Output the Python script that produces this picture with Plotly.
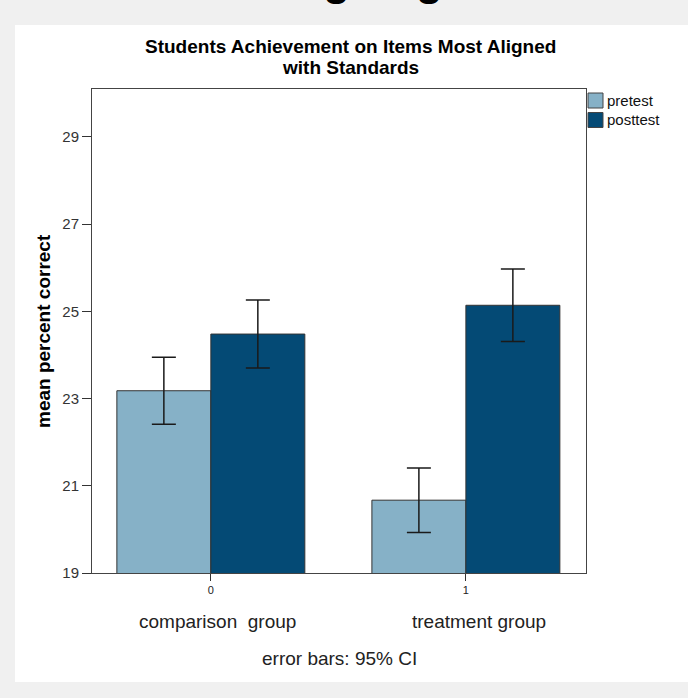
import plotly.graph_objects as go

# Group codes and labels on the x axis
group_codes = [0, 1]
group_labels = ["comparison  group", "treatment group"]
tick_labels = ["0", "1"]

# Mean percent correct and 95% CI half-widths
pretest_means = [23.18, 20.67]
pretest_ci = [0.77, 0.74]
posttest_means = [24.48, 25.14]
posttest_ci = [0.78, 0.83]

y_ticks = [19, 21, 23, 25, 27, 29]

PRE_COLOR = "#86b1c7"
POST_COLOR = "#044a75"
FONT = "Liberation Sans, Arial, sans-serif"

W, H = 688, 698
L, R, T, B = 92, 586, 89, 573  # plot area in pixels


def px_x(p):
    return (p - L) / (R - L)


def px_y(p):
    return (B - p) / (B - T)


fig = go.Figure()

fig.add_trace(go.Bar(
    x=group_codes, y=pretest_means, name="pretest",
    marker=dict(color=PRE_COLOR, line=dict(color="#333333", width=1)),
    error_y=dict(type="data", array=pretest_ci, color="#1a1a1a", thickness=1.5, width=12),
    showlegend=False,
))
fig.add_trace(go.Bar(
    x=group_codes, y=posttest_means, name="posttest",
    marker=dict(color=POST_COLOR, line=dict(color="#333333", width=1)),
    error_y=dict(type="data", array=posttest_ci, color="#1a1a1a", thickness=1.5, width=12),
    showlegend=False,
))

shapes = [
    # white chart panel
    dict(type="rect", xref="paper", yref="paper", layer="below",
         x0=px_x(15), x1=px_x(700), y0=px_y(682), y1=px_y(25),
         fillcolor="white", line=dict(width=0)),
]
annotations = []

# legend swatches and labels
for i, (name, col) in enumerate([("pretest", PRE_COLOR), ("posttest", POST_COLOR)]):
    top = 93 + i * 19.5
    shapes.append(dict(type="rect", xref="paper", yref="paper",
                       x0=px_x(588), x1=px_x(603), y0=px_y(top + 15), y1=px_y(top),
                       fillcolor=col, line=dict(color="#444444", width=1)))
    annotations.append(dict(xref="paper", yref="paper", x=px_x(605), y=px_y(top + 7.5),
                            text=name, showarrow=False, xanchor="left", yanchor="middle",
                            font=dict(family=FONT, size=15, color="#111111")))

# group names under the axis
for cx, lab in zip([217, 479], group_labels):
    annotations.append(dict(xref="paper", yref="paper", x=px_x(cx), y=px_y(621), text=lab,
                            showarrow=False, xanchor="center", yanchor="middle",
                            font=dict(family=FONT, size=19, color="#222222")))

# chart title, one annotation per line
for text, yc in [("Students Achievement on Items Most Aligned", 47),
                 ("with Standards", 68)]:
    annotations.append(dict(xref="paper", yref="paper", x=px_x(350), y=px_y(yc),
                            text="<b>" + text + "</b>", showarrow=False,
                            xanchor="center", yanchor="middle",
                            font=dict(family=FONT, size=19, color="#000000")))

annotations += [
    dict(xref="paper", yref="paper", x=px_x(339), y=px_y(658), text="error bars: 95% CI",
         showarrow=False, xanchor="center", yanchor="middle",
         font=dict(family=FONT, size=19, color="#222222")),
    dict(xref="paper", yref="paper", x=px_x(43), y=px_y(331),
         text="<b>mean percent correct</b>", textangle=-90,
         showarrow=False, xanchor="center", yanchor="middle",
         font=dict(family=FONT, size=19, color="#000000")),
    dict(xref="paper", yref="paper", x=px_x(355), y=px_y(-20),
         text="<b>Aligning</b>", showarrow=False, xanchor="center", yanchor="middle",
         font=dict(family=FONT, size=44, color="#000000")),
]

fig.update_layout(
    width=W, height=H,
    margin=dict(l=L, r=W - R, t=T, b=H - B, pad=0),
    paper_bgcolor="#f0f0f0",
    plot_bgcolor="#f0f0f0",
    barmode="group", bargap=0.263, bargroupgap=0,
    shapes=shapes, annotations=annotations,
    font=dict(family=FONT),
)
fig.update_xaxes(
    range=[-0.466, 1.471], tickvals=group_codes, ticktext=tick_labels,
    ticks="outside", ticklen=7, tickcolor="#333333",
    tickfont=dict(family=FONT, size=11, color="#222222"),
    showline=True, linecolor="#444444", linewidth=1, mirror=True,
    showgrid=False, zeroline=False,
)
fig.update_yaxes(
    range=[19, 30.1], tickvals=y_ticks,
    ticks="outside", ticklen=9, tickcolor="#333333",
    tickfont=dict(family=FONT, size=15, color="#333333"),
    showline=True, linecolor="#444444", linewidth=1, mirror=True,
    showgrid=False, zeroline=False,
)

fig.write_html("out.html")
